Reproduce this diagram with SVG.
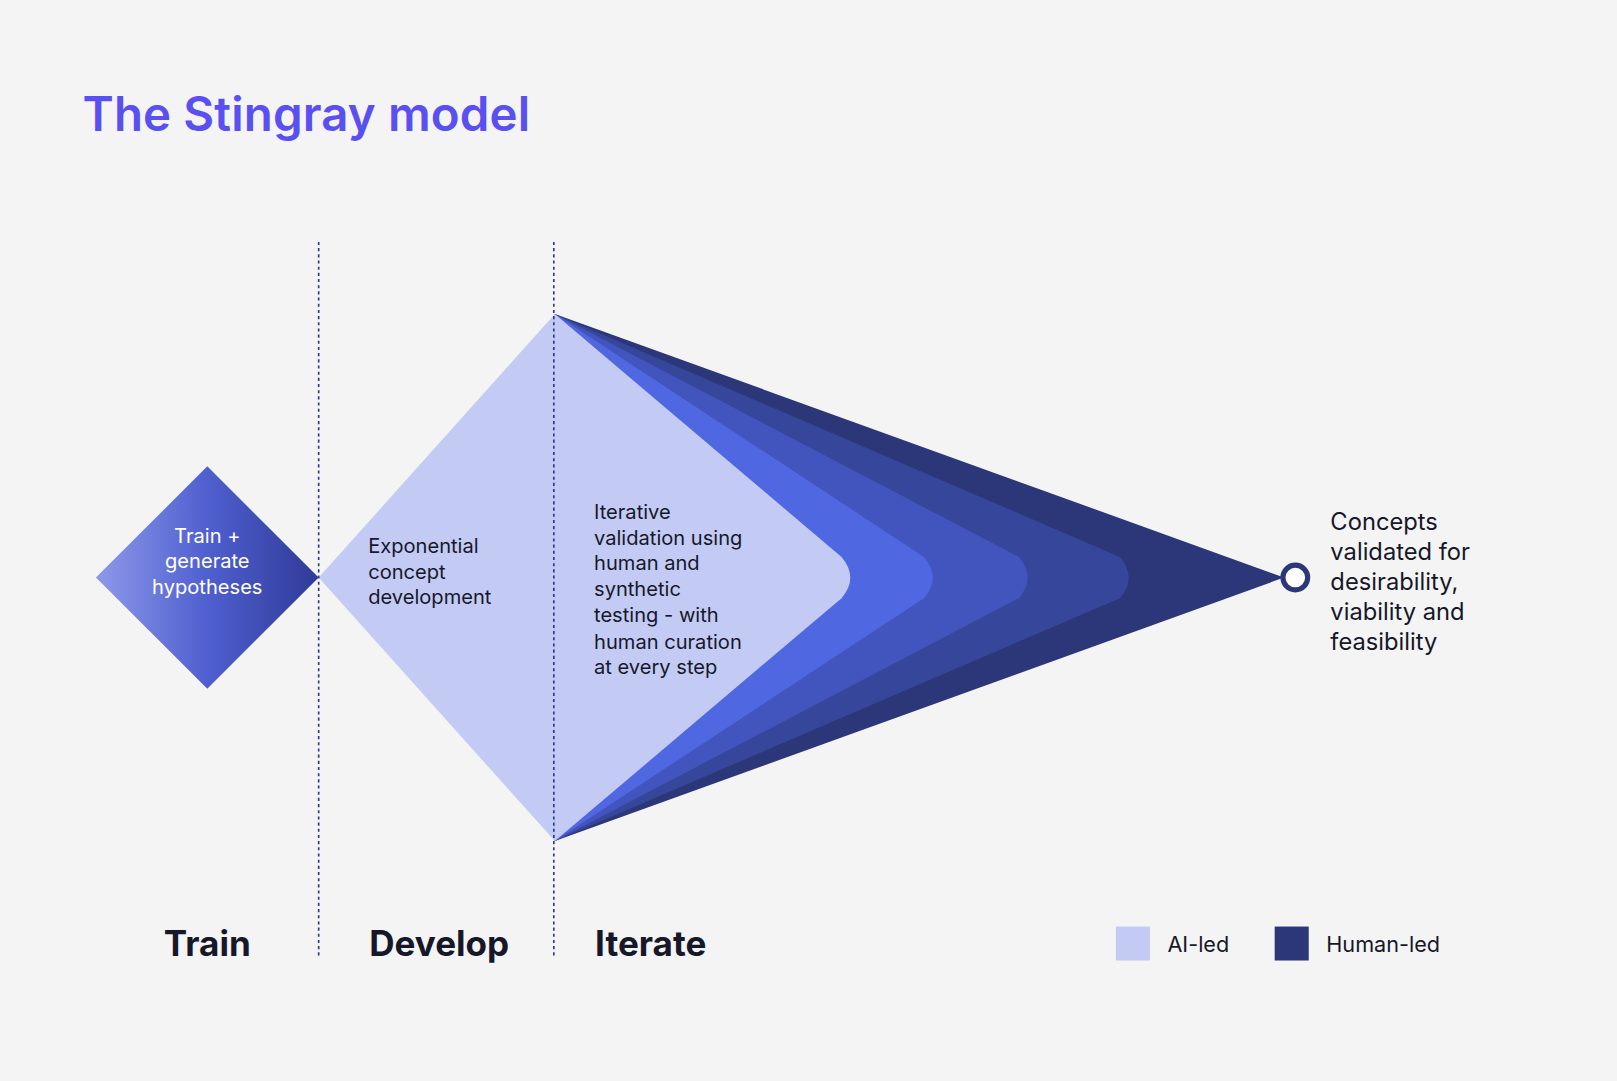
<svg xmlns="http://www.w3.org/2000/svg" width="1617" height="1081" viewBox="0 0 1617 1081">
<defs>
<linearGradient id="g" x1="0" y1="0" x2="1" y2="0"><stop offset="0" stop-color="#8d99ea"/><stop offset="0.5" stop-color="#4f5fcf"/><stop offset="1" stop-color="#2f3b98"/></linearGradient>
<style>
.t{font-family:Inter,"Liberation Sans",sans-serif;fill:#16182a}
.s{font-size:19.5px}
.h{font-size:34px;font-weight:700}
.d{stroke:#2d3a8c;stroke-width:1.6;stroke-dasharray:3,3}
</style>
</defs>
<rect width="1617" height="1081" fill="#f4f4f4"/>
<g transform="scale(1.0313,1.0295)">
<text x="80" y="127" style="font-family:Inter,'Liberation Sans',sans-serif;font-size:46px;font-weight:600;fill:#5a50f2" textLength="434">The Stingray model</text>
<g id="iterate">
<path d="M538,305 L1245,561 L538,817 Z" fill="#2c3779"/>
<path d="M538,305 L1086,541 Q1103,561 1086,581 L538,817 Z" fill="#36469a"/>
<path d="M538,305 L988,541 Q1005,561 988,581 L538,817 Z" fill="#4254bd"/>
<path d="M538,305 L896,541 Q913,561 896,581 L538,817 Z" fill="#4f67e0"/>
<path d="M538,305 L816,541 Q833,561 816,581 L538,817 Z" fill="#c3cbf5"/>
<circle cx="1256" cy="561" r="12" fill="#fff" stroke="#2c3779" stroke-width="5"/>
<text class="t s" x="576"><tspan x="576" y="504">Iterative</tspan><tspan x="576" y="529">validation using</tspan><tspan x="576" y="554">human and</tspan><tspan x="576" y="579">synthetic</tspan><tspan x="576" y="604">testing - with</tspan><tspan x="576" y="630">human curation</tspan><tspan x="576" y="655">at every step</tspan></text>
</g>
<g id="develop">
<path d="M309,561 L538,305 L538,817 Z" fill="#c3cbf5"/>
<text class="t s"><tspan x="357" y="537">Exponential</tspan><tspan x="357" y="562">concept</tspan><tspan x="357" y="587">development</tspan></text>
</g>
<g id="train">
<path d="M201,453 L309,561 L201,669 L93,561 Z" fill="url(#g)"/>
<text class="s" text-anchor="middle" style="font-family:Inter,'Liberation Sans',sans-serif;fill:#fff"><tspan x="201" y="527">Train +</tspan><tspan x="201" y="552">generate</tspan><tspan x="201" y="577">hypotheses</tspan></text>
</g>
<g id="connectors">
<line class="d" x1="309" y1="235" x2="309" y2="928"/>
<line class="d" x1="537" y1="235" x2="537" y2="928"/>
</g>
<g id="result">
<text class="t" style="font-size:23px"><tspan x="1290" y="515">Concepts</tspan><tspan x="1290" y="544">validated for</tspan><tspan x="1290" y="573">desirability,</tspan><tspan x="1290" y="602">viability and</tspan><tspan x="1290" y="631">feasibility</tspan></text>
</g>
<g id="labels">
<text class="t h" x="201" y="929" text-anchor="middle">Train</text>
<text class="t h" x="358" y="929">Develop</text>
<text class="t h" x="577" y="929">Iterate</text>
</g>
<g id="legend">
<rect x="1082" y="900" width="33" height="33" fill="#c3cbf5"/>
<text class="t" x="1132" y="925" style="font-size:21px">AI-led</text>
<rect x="1236" y="900" width="33" height="33" fill="#2c3779"/>
<text class="t" x="1286" y="925" style="font-size:21px">Human-led</text>
</g>
</g>
</svg>
